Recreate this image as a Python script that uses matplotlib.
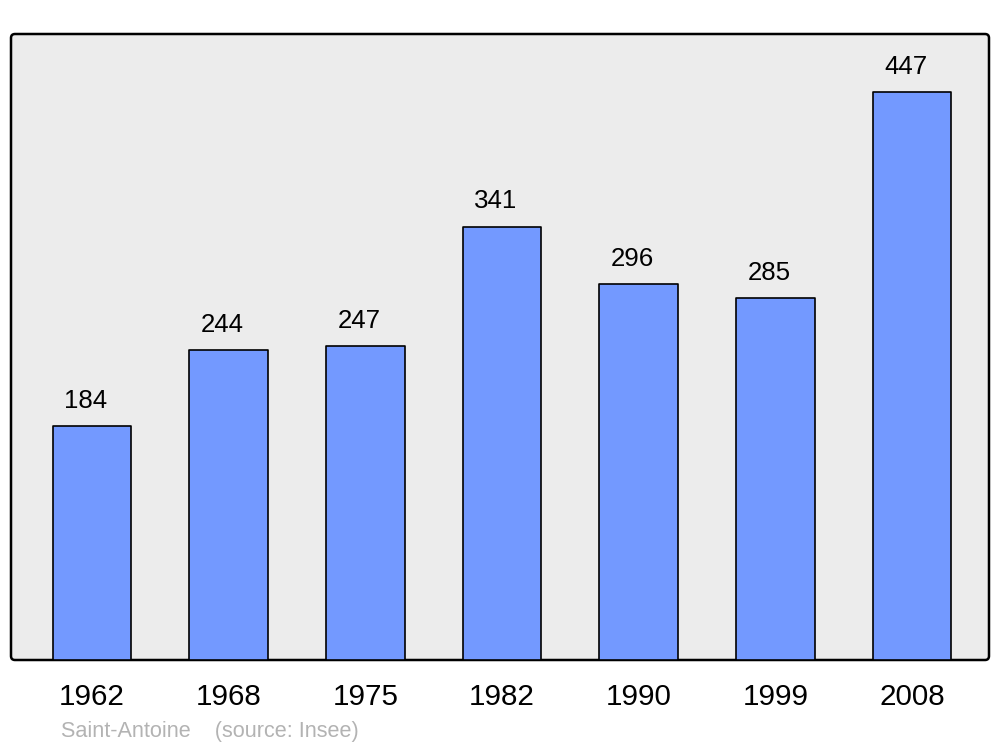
import matplotlib
matplotlib.use("Agg")
import matplotlib.pyplot as plt
from matplotlib.patches import FancyBboxPatch
from matplotlib.transforms import IdentityTransform

plt.rcParams['font.family'] = ['Liberation Sans', 'DejaVu Sans']

years = ["1962", "1968", "1975", "1982", "1990", "1999", "2008"]
population = [184, 244, 247, 341, 296, 285, 447]
caption = "Saint-Antoine    (source: Insee)"

fig = plt.figure(figsize=(10, 7.47), dpi=100)
ax = fig.add_axes([0.011, 1 - 660 / 747, 0.978, (660 - 34) / 747])
ax.set_facecolor('none')
ax.set_zorder(1)
for s in ax.spines.values():
    s.set_visible(False)

# rounded frame in pixel coordinates
frame = FancyBboxPatch((11, 747 - 660), 978, 626,
                       boxstyle="round,pad=0,rounding_size=4",
                       transform=IdentityTransform(), facecolor='#ececec',
                       edgecolor='black', linewidth=1.8, zorder=-1)
fig.patches.append(frame)

xpos = list(range(len(years)))
bars = ax.bar(xpos, population, width=0.575, color='#7399ff',
              edgecolor='black', linewidth=1.2, zorder=2)
for b in bars:
    b.set_joinstyle('round')

for x, v in zip(xpos, population):
    ax.annotate(str(v), (x, v), xytext=(-4.6, 18.2), textcoords='offset points',
                ha='center', va='center', fontsize=18.6)

ax.set_xlim(-0.593, 6.563)
ax.set_ylim(0, 492.6)
ax.set_yticks([])
ax.set_xticks(xpos)
ax.set_xticklabels(years, fontsize=21.3)
ax.tick_params(axis='x', length=0, pad=16.5)

fig.text(0.061, 1 - 731 / 747, caption, color='#b3b3b3', fontsize=15.6,
         ha='left', va='center')

fig.savefig('out.png', dpi=100)
